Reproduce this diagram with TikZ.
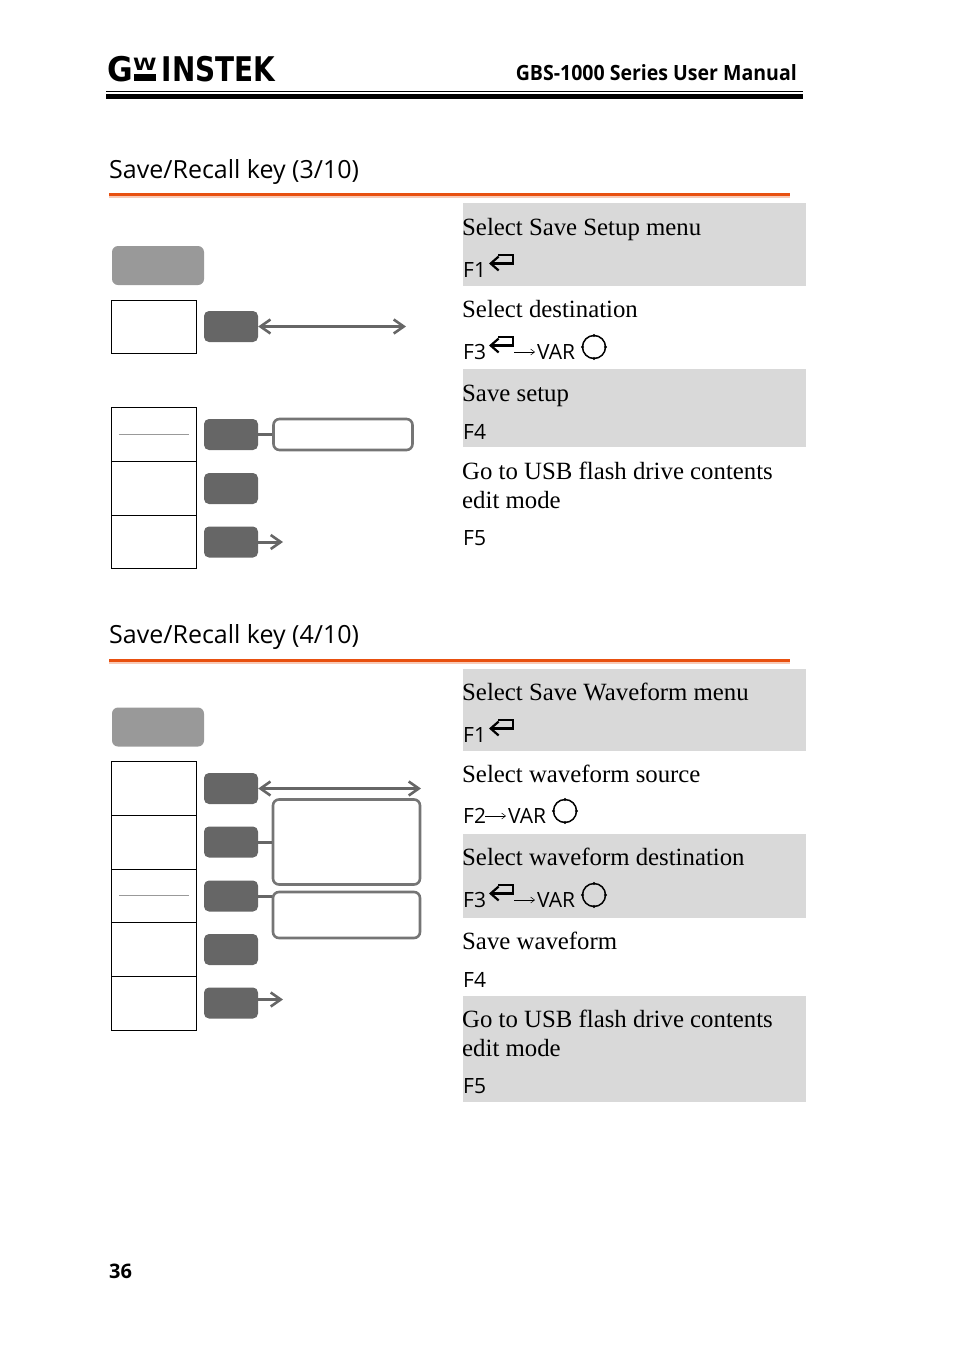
\documentclass[tikz,border=0pt]{standalone}
\usepackage{fontspec}
\setmainfont{Liberation Serif}
\newfontfamily\labelfont{Open Sans}
\newfontfamily\manualfont[FakeStretch=.93]{Open Sans}
\newfontfamily\logofont[FakeStretch=.82]{DejaVu Sans Bold}
\newfontfamily\logogfont[FakeStretch=.92]{DejaVu Sans Bold}
\newfontfamily\logowfont[FakeStretch=1.25]{DejaVu Sans Bold}
\usetikzlibrary{arrows.meta}
\definecolor{softgray}{HTML}{666666}
\definecolor{bandgray}{HTML}{D9D9D9}
\definecolor{keygray}{HTML}{999999}
\definecolor{rulered}{HTML}{E8500F}
\tikzset{
  descr/.style={anchor=base west,inner sep=0pt,font=\fontsize{24.8}{29}\selectfont,align=left},
  keyname/.style={anchor=base west,inner sep=0pt,font=\labelfont\fontsize{21}{24}\selectfont},
  head/.style={anchor=base west,inner sep=0pt,font=\labelfont\fontsize{25}{30}\selectfont},
  logotext/.style={anchor=base west,inner sep=0pt},
  band/.style={draw=none,fill=bandgray},
  softkey/.style={draw=none,fill=softgray,rounded corners=5pt},
  menubox/.style={draw=black,line width=1.2pt},
  mainkey/.style={draw=none,fill=keygray,rounded corners=6pt},
  infobox/.style={draw=softgray!90,line width=2.6pt,rounded corners=6pt,fill=white},
  link/.style={draw=softgray,line width=3pt},
  linkarrow/.style={link,-{Straight Barb[length=10pt,width=14pt,line width=2.6pt]}},
  linkboth/.style={link,{Straight Barb[length=10pt,width=14pt,line width=2.6pt]}-{Straight Barb[length=10pt,width=14pt,line width=2.6pt]}}
}
% enter and knob signs, given by their left end and their top or centre
\newcommand{\enterkey}[2]{\draw[line width=2.2pt,{Straight Barb[length=8pt,width=14pt,line width=2.2pt]}-] (#1,#2+8.5) -- (#1+24,#2+8.5) -- (#1+24,#2) -- (#1+9,#2);}
\newcommand{\varknob}[2]{\draw[line width=1.5pt] (#1,#2) circle[radius=11.5];
  \foreach \knobangle in {0,90,180,270} \fill (#1,#2) ++(\knobangle:11.5) circle[radius=1.6];}
\newcommand{\thinarrow}[2]{\draw[line width=.5pt,-{Straight Barb[length=4pt,width=6pt]}] (#1,#2) -- (#1+21,#2);}

\begin{document}
\begin{tikzpicture}[x=1pt,y=-1pt]
\useasboundingbox (0,0) rectangle (954,1350);
% page header
\node[logotext,font=\logogfont\fontsize{34}{34}\selectfont] (logog) at (107.5,81) {G};
\node[logotext,font=\logowfont\fontsize{17}{17}\selectfont] (logow) at (133,70) {W};
\node[logotext,font=\logofont\fontsize{34}{34}\selectfont] (logoname) at (161.5,81) {INSTEK};
\fill (134,74) rectangle (156,81);
\node[anchor=base east,inner sep=0pt,font=\manualfont\bfseries\fontsize{21}{25}\selectfont] (manual) at (797,80) {GBS-1000 Series User Manual};
\fill (106,91) rectangle (803,92);
\fill (106,94) rectangle (803,99);

% first section
\node[head] (heada) at (109,178) {Save/Recall key (3/10)};
\fill[rulered] (109,193) rectangle (790,196);
\fill[rulered!30] (109,196) rectangle (790,197.5);
\fill[band] (463,203) rectangle (806,286);
\fill[band] (463,369) rectangle (806,447);
\node[descr] (asetup) at (462,235) {Select Save Setup menu};
\node[keyname] (asetupk) at (463,277) {F1};
\enterkey{489}{255}
\node[descr] (adest) at (462,317) {Select destination};
\node[keyname] (adestk) at (463,359) {F3};
\enterkey{489}{337}
\thinarrow{514}{352}
\node[keyname] (adestv) at (537,359) {VAR};
\varknob{594}{347}
\node[descr] (asave) at (462,401) {Save setup};
\node[keyname] (asavek) at (463,439) {F4};
\node[descr] (ausb) at (462,508) {Go to USB flash drive contents\\edit mode};
\node[keyname] (ausbk) at (463,545) {F5};

\node[mainkey,minimum width=92pt,minimum height=39pt] (amain) at (158,265.5) {};
\node[menubox,minimum width=85pt,minimum height=53pt] (ambox) at (154,327) {};
\node[menubox,minimum width=85pt,minimum height=54pt] (amc) at (154,434.5) {};
\node[menubox,minimum width=85pt,minimum height=54pt] (amd) at (154,488.5) {};
\node[menubox,minimum width=85pt,minimum height=53pt] (ame) at (154,542) {};
\node[softkey,minimum width=54pt,minimum height=31pt] (akeyb) at (231,326.5) {};
\node[softkey,minimum width=54pt,minimum height=31pt] (akeyc) at (231,434.5) {};
\node[softkey,minimum width=54pt,minimum height=31pt] (akeyd) at (231,488.5) {};
\node[softkey,minimum width=54pt,minimum height=31pt] (akeye) at (231,542) {};
\node[infobox,minimum width=139pt,minimum height=31pt] (ainfo) at (343,434.5) {};
\coordinate (aendb) at (406,326.5);
\coordinate (aende) at (283,542);
\draw[keygray,line width=.8pt] (119,434.5) -- (189,434.5);
\draw[linkboth] (akeyb) -- (aendb);
\draw[link] (akeyc) -- (ainfo);
\draw[linkarrow] (akeye) -- (aende);

% second section
\node[head] (headb) at (109,643) {Save/Recall key (4/10)};
\fill[rulered] (109,659) rectangle (790,662);
\fill[rulered!30] (109,662) rectangle (790,663.5);
\fill[band] (463,669) rectangle (806,751);
\fill[band] (463,834) rectangle (806,918);
\fill[band] (463,996) rectangle (806,1102);
\node[descr] (bsetup) at (462,700) {Select Save Waveform menu};
\node[keyname] (bsetupk) at (463,742) {F1};
\enterkey{489}{720}
\node[descr] (bsrc) at (462,782) {Select waveform source};
\node[keyname] (bsrck) at (463,823) {F2};
\thinarrow{485}{816}
\node[keyname] (bsrcv) at (508,823) {VAR};
\varknob{565}{811}
\node[descr] (bdest) at (462,865) {Select waveform destination};
\node[keyname] (bdestk) at (463,907) {F3};
\enterkey{489}{885}
\thinarrow{514}{900}
\node[keyname] (bdestv) at (537,907) {VAR};
\varknob{594}{895}
\node[descr] (bsave) at (462,949) {Save waveform};
\node[keyname] (bsavek) at (463,987) {F4};
\node[descr] (busb) at (462,1056) {Go to USB flash drive contents\\edit mode};
\node[keyname] (busbk) at (463,1093) {F5};

\node[mainkey,minimum width=92pt,minimum height=39pt] (bmain) at (158,727) {};
\node[menubox,minimum width=85pt,minimum height=54pt] (bma) at (154,788.5) {};
\node[menubox,minimum width=85pt,minimum height=54pt] (bmb) at (154,842.5) {};
\node[menubox,minimum width=85pt,minimum height=53pt] (bmc) at (154,896) {};
\node[menubox,minimum width=85pt,minimum height=54pt] (bmd) at (154,949.5) {};
\node[menubox,minimum width=85pt,minimum height=54pt] (bme) at (154,1003.5) {};
\node[softkey,minimum width=54pt,minimum height=31pt] (bkeya) at (231,788.5) {};
\node[softkey,minimum width=54pt,minimum height=31pt] (bkeyb) at (231,842) {};
\node[softkey,minimum width=54pt,minimum height=31pt] (bkeyc) at (231,896) {};
\node[softkey,minimum width=54pt,minimum height=31pt] (bkeyd) at (231,949.5) {};
\node[softkey,minimum width=54pt,minimum height=31pt] (bkeye) at (231,1003) {};
\node[infobox,minimum width=147pt,minimum height=85pt] (binfoa) at (346.5,842) {};
\node[infobox,minimum width=147pt,minimum height=46pt] (binfob) at (346.5,915) {};
\coordinate (bend) at (421,788.5);
\coordinate (bende) at (283,999.5);
\draw[keygray,line width=1.2pt] (119,895.5) -- (189,895.5);
\draw[linkboth] (bkeya) -- (bend);
\draw[link] (bkeyb) -- (bkeyb-|binfoa.west);
\draw[link] (bkeyc) -- (bkeyc-|binfob.west);
\draw[linkarrow] (bkeye.east|-bende) -- (bende);

% page number
\node[anchor=base west,inner sep=0pt,font=\labelfont\bfseries\fontsize{20}{24}\selectfont] (pagenum) at (109,1278.5) {36};
\end{tikzpicture}
\end{document}
